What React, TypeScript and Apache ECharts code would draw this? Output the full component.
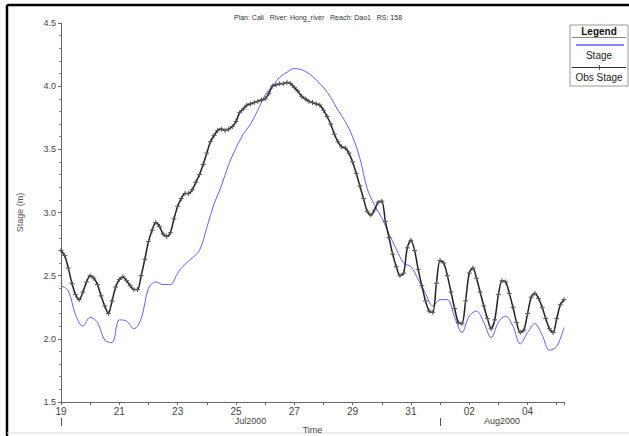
import React, { useEffect, useRef } from 'react';
import * as echarts from 'echarts';

// Time runs in days after 19 Jul 2000 00:00
const obsStepDays = 0.125; // 3-hourly observations
const obsStage = [
  2.70, 2.66, 2.56, 2.44, 2.35, 2.31, 2.37, 2.45,
  2.50, 2.48, 2.43, 2.34, 2.26, 2.20, 2.30, 2.41,
  2.47, 2.49, 2.46, 2.42, 2.39, 2.39, 2.50, 2.63,
  2.77, 2.86, 2.92, 2.89, 2.83, 2.81, 2.84, 2.95,
  3.05, 3.11, 3.15, 3.15, 3.18, 3.24, 3.30, 3.38,
  3.47, 3.56, 3.61, 3.65, 3.66, 3.65, 3.66, 3.68,
  3.72, 3.79, 3.82, 3.85, 3.86, 3.87, 3.88, 3.89,
  3.90, 3.94, 4.00, 4.01, 4.02, 4.02, 4.03, 4.02,
  3.99, 3.96, 3.92, 3.90, 3.88, 3.87, 3.86, 3.85,
  3.81, 3.76, 3.70, 3.62, 3.56, 3.52, 3.51, 3.47,
  3.40, 3.31, 3.21, 3.11, 3.01, 2.98, 3.02, 3.08,
  3.09, 2.93, 2.80, 2.67, 2.57, 2.50, 2.52, 2.72,
  2.78, 2.70, 2.55, 2.42, 2.30, 2.22, 2.21, 2.44,
  2.62, 2.60, 2.50, 2.37, 2.24, 2.13, 2.12, 2.30,
  2.52, 2.56, 2.48, 2.37, 2.26, 2.16, 2.08, 2.15,
  2.35, 2.46, 2.45, 2.36, 2.25, 2.13, 2.05, 2.07,
  2.20, 2.33, 2.36, 2.32, 2.25, 2.16, 2.08, 2.05,
  2.16, 2.27, 2.31,
];

const stageStepDays = 0.25; // 6-hourly computed stage
const stage = [
  2.42, 2.38, 2.19, 2.10,
  2.17, 2.13, 1.99, 1.97,
  2.15, 2.14, 2.08, 2.16,
  2.40, 2.45, 2.43, 2.43,
  2.52, 2.59, 2.64, 2.70,
  2.88, 3.07, 3.21, 3.38,
  3.51, 3.62, 3.70, 3.81,
  3.93, 4.00, 4.07, 4.11,
  4.14, 4.13, 4.10, 4.05,
  3.99, 3.91, 3.81, 3.72,
  3.60, 3.43, 3.19, 3.06,
  2.96, 2.83, 2.71, 2.60,
  2.57, 2.47, 2.36, 2.26,
  2.31, 2.31, 2.17, 2.05,
  2.18, 2.22, 2.13, 2.01,
  2.13, 2.18, 2.10, 1.96,
  2.05, 2.12, 2.03, 1.91,
  1.94, 2.09,
];

const xMaxDays = 17.25;
const julyDays = 13; // 19 Jul .. 31 Jul
const months = [
  { name: 'Jul2000', from: 0, to: julyDays },
  { name: 'Aug2000', from: julyDays, to: xMaxDays },
];
const yMin = 1.5;
const yMax = 4.5;
const yInterval = 0.5;

const titleText = 'Plan: Cali   River: Hong_river   Reach: Dao1   RS: 158';
const FONT = '"Liberation Sans", Arial, sans-serif';

function dayLabel(d: number): string {
  if (Math.abs(d - Math.round(d)) > 1e-6) return '';
  const n = Math.round(d);
  if (n % 2 !== 0) return '';
  if (n < julyDays) return String(19 + n);
  const a = n - julyDays + 1;
  return a < 10 ? '0' + a : String(a);
}

export default function App() {
  const ref = useRef<HTMLDivElement>(null);
  useEffect(() => {
    document.body.style.margin = '0';
    if (!ref.current) return;
    const chart = echarts.init(ref.current, null, { renderer: 'svg' });
    const obsData = obsStage.map((v, i) => [i * obsStepDays, v]);
    const stageData = stage.map((v, i) => [i * stageStepDays, v]);
    chart.setOption({
      animation: false,
      backgroundColor: '#ffffff',
      textStyle: { fontFamily: FONT },
      grid: { left: 61, right: 65, top: 23, bottom: 34 },
      title: {
        text: titleText,
        left: 313,
        textAlign: 'center',
        top: 9,
        textStyle: { fontSize: 7, fontWeight: 'normal', color: '#333', fontFamily: FONT },
      },
      xAxis: {
        type: 'value',
        min: 0,
        max: xMaxDays,
        interval: 1,
        splitLine: { show: false },
        axisLine: { onZero: false, lineStyle: { color: '#666', width: 1 } },
        axisTick: { show: true, length: 3, inside: false, lineStyle: { color: '#666' } },
        axisLabel: {
          formatter: (v: number) => dayLabel(v),
          color: '#444',
          fontSize: 10,
          margin: 4,
          showMaxLabel: true,
          fontFamily: FONT,
        },
      },
      yAxis: {
        type: 'value',
        min: yMin,
        max: yMax,
        interval: yInterval,
        name: 'Stage (m)',
        nameLocation: 'middle',
        nameGap: 37,
        nameTextStyle: { color: '#555', fontSize: 9, fontFamily: FONT },
        splitLine: { show: false },
        axisLine: { show: true, lineStyle: { color: '#666', width: 1 } },
        axisTick: { show: true, length: 3, lineStyle: { color: '#666' } },
        minorTick: { show: true, splitNumber: 5, length: 2, lineStyle: { color: '#888' } },
        axisLabel: {
          formatter: (v: number) => v.toFixed(1),
          color: '#444',
          fontSize: 9,
          margin: 5,
          fontFamily: FONT,
        },
      },
      series: [
        {
          name: 'Stage',
          type: 'line',
          data: stageData,
          showSymbol: false,
          smooth: 0.35,
          lineStyle: { color: '#6060ff', width: 1 },
          z: 2,
        },
        {
          name: 'Obs Stage',
          type: 'line',
          data: obsData,
          smooth: 0.3,
          symbol: 'path://M5,0 L5,10 M0,5 L10,5',
          symbolSize: 5,
          showAllSymbol: true,
          itemStyle: { color: 'none', borderColor: '#555', borderWidth: 1 },
          lineStyle: { color: '#222', width: 1.5 },
          z: 3,
        },
      ],
    });

    const px = (d: number) => chart.convertToPixel({ xAxisIndex: 0 }, d) as number;
    const x0 = px(0);
    const xEnd = px(xMaxDays);
    const graphics: any[] = [
      // outer frame
      { type: 'line', shape: { x1: 7, y1: 5, x2: 7, y2: 436 }, style: { stroke: '#000', lineWidth: 2.5 } },
      { type: 'line', shape: { x1: 7, y1: 5, x2: 629, y2: 5 }, style: { stroke: '#000', lineWidth: 2.5 } },
      { type: 'line', shape: { x1: 7, y1: 433, x2: 629, y2: 433 }, style: { stroke: '#ddd', lineWidth: 1 } },
      {
        type: 'text',
        x: (x0 + xEnd) / 2,
        y: 430,
        style: { text: 'Time', fontSize: 9, fill: '#444', align: 'center', verticalAlign: 'middle', fontFamily: FONT },
      },
    ];
    months.forEach((m) => {
      const a = px(m.from);
      const b = px(m.to);
      graphics.push({ type: 'line', shape: { x1: Math.round(a) + 0.5, y1: 418, x2: Math.round(a) + 0.5, y2: 426 }, style: { stroke: '#555', lineWidth: 1 } });
      graphics.push({
        type: 'text',
        x: (a + b) / 2,
        y: 421,
        style: { text: m.name, fontSize: 9, fill: '#444', align: 'center', verticalAlign: 'middle', fontFamily: FONT },
      });
    });
    // Legend box
    const lx = 570, ly = 25, lw = 58, lh = 61;
    graphics.push({
      type: 'group',
      z: 10,
      children: [
        { type: 'rect', shape: { x: lx, y: ly, width: lw, height: lh }, style: { fill: '#fff', stroke: '#999', lineWidth: 1 } },
        { type: 'text', x: lx + lw / 2, y: ly + 6, style: { text: 'Legend', fontSize: 10, fontWeight: 'bold', fill: '#111', align: 'center', verticalAlign: 'middle', fontFamily: FONT } },
        { type: 'line', shape: { x1: lx + 2, y1: ly + 12.5, x2: lx + lw - 2, y2: ly + 12.5 }, style: { stroke: '#888', lineWidth: 1 } },
        { type: 'line', shape: { x1: lx + 6, y1: ly + 20, x2: lx + lw - 4, y2: ly + 20 }, style: { stroke: '#6060ff', lineWidth: 1.5 } },
        { type: 'text', x: lx + lw / 2, y: ly + 30, style: { text: 'Stage', fontSize: 10, fill: '#222', align: 'center', verticalAlign: 'middle', fontFamily: FONT } },
        { type: 'line', shape: { x1: lx + 2, y1: ly + 42.5, x2: lx + lw - 2, y2: ly + 42.5 }, style: { stroke: '#333', lineWidth: 1 } },
        { type: 'line', shape: { x1: lx + lw / 2 + 0.5, y1: ly + 40, x2: lx + lw / 2 + 0.5, y2: ly + 45 }, style: { stroke: '#555', lineWidth: 1 } },
        { type: 'text', x: lx + lw / 2, y: ly + 52, style: { text: 'Obs Stage', fontSize: 10, fill: '#222', align: 'center', verticalAlign: 'middle', fontFamily: FONT } },
      ],
    });
    chart.setOption({ graphic: graphics });
    return () => chart.dispose();
  }, []);
  return <div ref={ref} style={{ width: 629, height: 436 }} />;
}
